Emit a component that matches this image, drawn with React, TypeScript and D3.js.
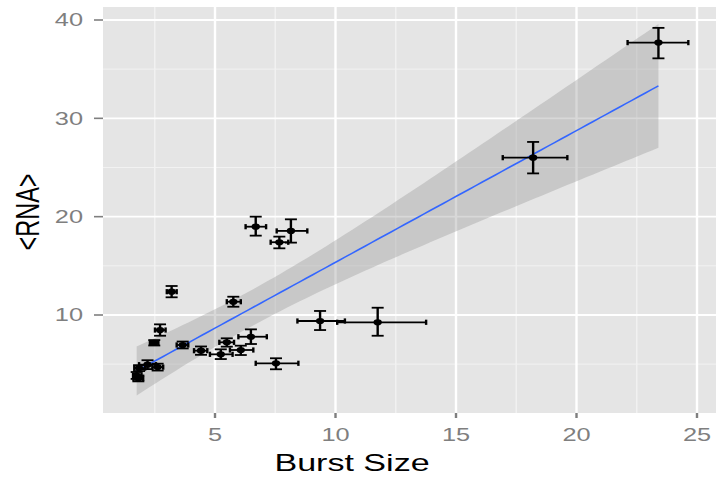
import React from "react";
import * as d3 from "d3";

// Mean burst size with its interval
const burst = [1.75, 1.82, 1.85, 2.2, 2.62, 2.48, 2.72, 3.2, 3.66, 4.42, 5.24, 5.49, 5.76, 6.07, 6.49, 6.69, 7.53, 7.67, 8.15, 9.36, 11.75, 18.2, 23.4];
const burstLo = [1.6, 1.62, 1.65, 1.85, 2.4, 2.3, 2.51, 3.0, 3.41, 4.13, 4.79, 5.18, 5.49, 5.62, 5.97, 6.27, 6.69, 7.31, 7.56, 8.42, 10.07, 16.94, 22.12];
const burstHi = [1.95, 2.02, 2.1, 2.55, 2.85, 2.65, 2.95, 3.41, 3.89, 4.68, 5.73, 5.79, 6.07, 6.59, 7.15, 7.12, 8.46, 8.04, 8.83, 10.39, 13.76, 19.62, 24.64];
// Mean RNA count with its interval
const rna = [3.85, 3.55, 4.6, 4.95, 4.7, 7.18, 8.47, 12.37, 6.95, 6.37, 6.0, 7.22, 11.35, 6.44, 7.79, 18.98, 5.09, 17.4, 18.55, 9.39, 9.26, 26.0, 37.7];
const rnaLo = [3.5, 3.25, 4.3, 4.5, 4.35, 6.9, 7.89, 11.8, 6.6, 5.95, 5.52, 6.78, 10.84, 5.93, 7.05, 18.07, 4.48, 16.78, 17.36, 8.47, 7.89, 24.4, 36.1];
const rnaHi = [4.2, 3.85, 4.9, 5.4, 5.05, 7.45, 9.05, 12.95, 7.3, 6.8, 6.51, 7.63, 11.86, 6.88, 8.54, 20.0, 5.6, 17.97, 19.73, 10.41, 10.74, 27.6, 39.2];

const xTicks = [5, 10, 15, 20, 25];
const yTicks = [10, 20, 30, 40];
const xMinor = [2.5, 7.5, 12.5, 17.5, 22.5];
const yMinor = [5, 15, 25, 35];

const W = 717;
const H = 477;
const panel = { left: 103, right: 716, top: 7, bottom: 413 };
const SX = 1.45; // horizontal stretch of the lettering

const FONT = "'Liberation Sans', Arial, Helvetica, sans-serif";

// 95% confidence band for an ordinary least squares fit
function linearFit(xs: number[], ys: number[]) {
  const n = xs.length;
  const mx = d3.mean(xs)!;
  const my = d3.mean(ys)!;
  let sxx = 0, sxy = 0;
  for (let i = 0; i < n; i++) {
    sxx += (xs[i] - mx) ** 2;
    sxy += (xs[i] - mx) * (ys[i] - my);
  }
  const b = sxy / sxx;
  const a = my - b * mx;
  let sse = 0;
  for (let i = 0; i < n; i++) sse += (ys[i] - (a + b * xs[i])) ** 2;
  const s = Math.sqrt(sse / (n - 2));
  const t = 2.08; // t quantile 0.975, 21 degrees of freedom
  const [x0, x1] = d3.extent(xs) as [number, number];
  const grid = d3.range(0, 81).map((k) => x0 + ((x1 - x0) * k) / 80);
  return grid.map((x) => {
    const fit = a + b * x;
    const se = s * Math.sqrt(1 / n + (x - mx) ** 2 / sxx);
    return { x, fit, lo: fit - t * se, hi: fit + t * se };
  });
}

export default function App() {
  const x = d3.scaleLinear().domain([5, 25]).range([215, 697]);
  const y = d3.scaleLinear().domain([10, 40]).range([315, 20]);

  const band = linearFit(burst, rna);
  const area = d3
    .area<{ x: number; lo: number; hi: number }>()
    .x((d) => x(d.x))
    .y0((d) => y(d.lo))
    .y1((d) => y(d.hi));
  const line = d3
    .line<{ x: number; fit: number }>()
    .x((d) => x(d.x))
    .y((d) => y(d.fit));

  const capW = 6; // half width of vertical bar caps
  const capH = 2.6; // half height of horizontal bar caps

  return (
    <svg
      width={W}
      height={H}
      style={{ position: "absolute", left: 0, top: 0, background: "#fff" }}
      fontFamily={FONT}
    >
      <rect
        x={panel.left}
        y={panel.top}
        width={panel.right - panel.left}
        height={panel.bottom - panel.top}
        fill="#E5E5E5"
      />
      {xMinor.map((v) => (
        <line key={"xm" + v} x1={x(v)} x2={x(v)} y1={panel.top} y2={panel.bottom} stroke="#F2F2F2" strokeWidth={1.4} />
      ))}
      {yMinor.map((v) => (
        <line key={"ym" + v} x1={panel.left} x2={panel.right} y1={y(v)} y2={y(v)} stroke="#F2F2F2" strokeWidth={1} />
      ))}
      {xTicks.map((v) => (
        <line key={"xg" + v} x1={x(v)} x2={x(v)} y1={panel.top} y2={panel.bottom} stroke="#FFFFFF" strokeWidth={2.4} />
      ))}
      {yTicks.map((v) => (
        <line key={"yg" + v} x1={panel.left} x2={panel.right} y1={y(v)} y2={y(v)} stroke="#FFFFFF" strokeWidth={1.8} />
      ))}

      <path d={area(band) ?? ""} fill="#999999" fillOpacity={0.38} />
      <path d={line(band) ?? ""} fill="none" stroke="#3366FF" strokeWidth={1.6} />

      {burst.map((bx, i) => {
        const cx = x(bx);
        const cy = y(rna[i]);
        const l = x(burstLo[i]);
        const r = x(burstHi[i]);
        const t = y(rnaHi[i]);
        const b = y(rnaLo[i]);
        return (
          <g key={"p" + i} stroke="#000" fill="none">
            <line x1={l} x2={r} y1={cy} y2={cy} strokeWidth={1.8} />
            <line x1={l} x2={l} y1={cy - capH} y2={cy + capH} strokeWidth={2.4} />
            <line x1={r} x2={r} y1={cy - capH} y2={cy + capH} strokeWidth={2.4} />
            <line x1={cx} x2={cx} y1={t} y2={b} strokeWidth={2.4} />
            <line x1={cx - capW} x2={cx + capW} y1={t} y2={t} strokeWidth={1.8} />
            <line x1={cx - capW} x2={cx + capW} y1={b} y2={b} strokeWidth={1.8} />
            <ellipse cx={cx} cy={cy} rx={4.2} ry={3.1} fill="#000" stroke="none" />
          </g>
        );
      })}

      {xTicks.map((v) => (
        <g key={"xt" + v}>
          <line x1={x(v)} x2={x(v)} y1={panel.bottom} y2={panel.bottom + 5} stroke="#7F7F7F" strokeWidth={2.4} />
          <text
            transform={`translate(${x(v)},${441}) scale(${SX},1)`}
            textAnchor="middle"
            fontSize={17.5}
            fill="#7F7F7F"
          >
            {v}
          </text>
        </g>
      ))}
      {yTicks.map((v) => (
        <g key={"yt" + v}>
          <line x1={panel.left - 9} x2={panel.left} y1={y(v)} y2={y(v)} stroke="#7F7F7F" strokeWidth={1.6} />
          <text
            transform={`translate(${83},${y(v) + 6.2}) scale(${SX},1)`}
            textAnchor="end"
            fontSize={17.5}
            fill="#7F7F7F"
          >
            {v}
          </text>
        </g>
      ))}

      <text
        transform={`translate(${352},${471}) scale(${SX},1)`}
        textAnchor="middle"
        fontSize={23.5}
        fill="#000"
      >
        Burst Size
      </text>
      <text
        transform={`translate(${39},${212}) scale(${SX},1) rotate(-90)`}
        textAnchor="middle"
        fontSize={23.5}
        fill="#000"
      >
        {"<RNA>"}
      </text>
    </svg>
  );
}
